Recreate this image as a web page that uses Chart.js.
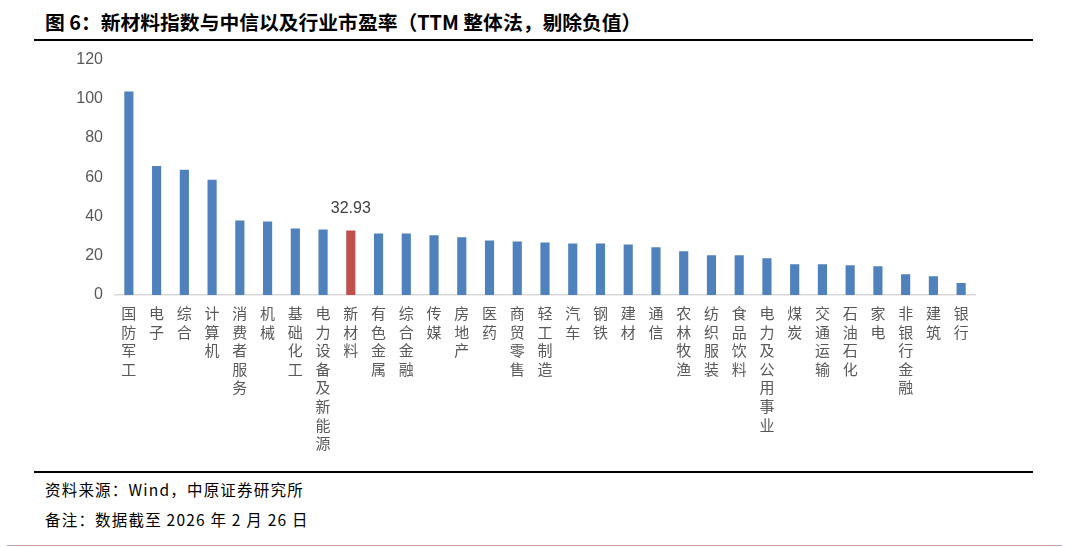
<!DOCTYPE html>
<html>
<head>
<meta charset="utf-8">
<script src="https://cdn.jsdelivr.net/npm/chart.js@4.4.1/dist/chart.umd.min.js"></script>
<style>
  body { margin: 0; background: #fff; width: 1078px; height: 547px; overflow: hidden; position: relative; font-family: "Noto Sans CJK SC", sans-serif; }
  .title { position: absolute; left: 45px; top: 7px; font-size: 19.8px; font-weight: bold; color: #000; white-space: nowrap; }
  .rule { position: absolute; left: 34px; width: 999px; height: 2px; background: #000; }
  .note { position: absolute; left: 45px; font-size: 15.5px; letter-spacing: 1.2px; color: #000; white-space: nowrap; }
  .bottom { position: absolute; left: 7px; width: 1055px; top: 545px; height: 1px; background: #c9a0a2; }
  #wrap { position: absolute; left: 0; top: 38px; width: 1078px; height: 427px; }
</style>
</head>
<body>
<div class="title">图 6：新材料指数与中信以及行业市盈率（TTM 整体法，剔除负值）</div>
<div class="rule" style="top:39px"></div>
<div id="wrap"><canvas id="peChart"></canvas></div>
<div class="rule" style="top:471px"></div>
<div class="note" style="top:478px">资料来源：Wind，中原证券研究所</div>
<div class="note" style="top:508px">备注：数据截至 2026 年 2 月 26 日</div>
<div class="bottom"></div>

<script>
// 行业名称（竖排显示）
const industries = ['国防军工', '电子', '综合', '计算机', '消费者服务', '机械', '基础化工', '电力设备及新能源',
    '新材料', '有色金属', '综合金融', '传媒', '房地产', '医药', '商贸零售', '轻工制造', '汽车', '钢铁', '建材',
    '通信', '农林牧渔', '纺织服装', '食品饮料', '电力及公用事业', '煤炭', '交通运输', '石油石化', '家电',
    '非银行金融', '建筑', '银行'];

// 市盈率 TTM
const peValues = [103.8, 65.8, 63.8, 58.7, 38.0, 37.5, 33.9, 33.4,
    32.93, 31.4, 31.4, 30.4, 29.4, 27.8, 27.3, 26.8, 26.3, 26.3, 25.8,
    24.3, 22.3, 20.3, 20.3, 18.7, 15.7, 15.7, 15.2, 14.7,
    10.6, 9.6, 6.1];

const highlight = '新材料';
const yTicks = [0, 20, 40, 60, 80, 100, 120];

const blue = '#4f81bd';
const red = '#c0504d';
const colors = industries.map(n => n === highlight ? red : blue);

// 只给新材料标数值
const valueLabel = {
    id: 'valueLabel',
    afterDatasetsDraw(chart) {
        const idx = industries.indexOf(highlight);
        const bar = chart.getDatasetMeta(0).data[idx];
        const c = chart.ctx;
        c.save();
        c.font = '16px "Liberation Sans", Arial, sans-serif';
        c.fillStyle = '#404040';
        c.textAlign = 'center';
        c.textBaseline = 'bottom';
        c.fillText(peValues[idx].toFixed(2), bar.x, bar.y - 14);
        c.restore();
    }
};

new Chart(document.getElementById('peChart'), {
    type: 'bar',
    data: {
        labels: industries.map(n => n.split('')),
        datasets: [{
            data: peValues,
            backgroundColor: colors,
            categoryPercentage: 1,
            barPercentage: 0.33
        }]
    },
    options: {
        responsive: true,
        maintainAspectRatio: false,
        animation: false,
        layout: { padding: { top: 6, right: 103, left: 0, bottom: 0 } },
        plugins: { legend: { display: false }, tooltip: { enabled: false } },
        scales: {
            x: {
                grid: { display: false, drawTicks: false },
                border: { color: '#d9d9d9', width: 1.5 },
                ticks: {
                    color: '#595959',
                    font: { family: '"Noto Sans CJK SC", sans-serif', size: 15, lineHeight: 1.24 },
                    padding: 9,
                    maxRotation: 0,
                    autoSkip: false
                },
                afterFit: s => { s.height = 170; }
            },
            y: {
                min: 0,
                max: 120,
                grid: { display: false, drawTicks: false },
                border: { display: false },
                afterBuildTicks: s => { s.ticks = yTicks.map(v => ({ value: v })); },
                ticks: {
                    color: '#595959',
                    font: { family: '"Liberation Sans", Arial, sans-serif', size: 16 },
                    padding: 12
                },
                afterFit: s => { s.width = 115; }
            }
        }
    },
    plugins: [valueLabel]
});
</script>
</body>
</html>
